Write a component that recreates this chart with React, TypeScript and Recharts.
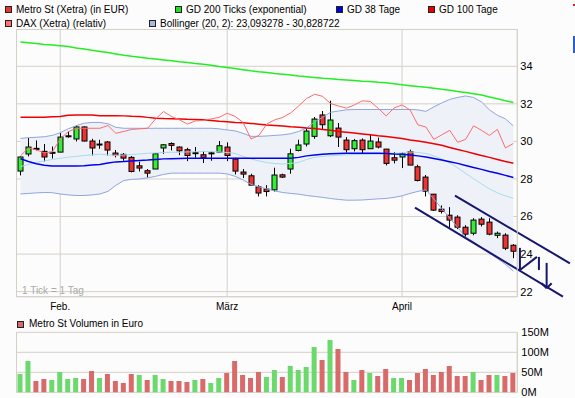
import React from "react";
import {
  ComposedChart,
  Area,
  Line,
  Bar,
  Cell,
  XAxis,
  YAxis,
  CartesianGrid,
  ReferenceLine,
} from "recharts";

// Tageskerzen Metro St (Xetra), in EUR
const OPEN = [
  28.42, 29.33, 29.63, 29.47, 29.41, 29.43, 30.25, 30.13, 30.77, 30.02,
  29.86, 29.97, 29.38, 29.31, 29.15, 28.7, 28.44, 28.53, 29.65, 29.89,
  29.7, 29.56, 29.4, 29.29, 29.38, 29.43, 29.7, 29.06, 28.37, 28.17,
  27.58, 27.46, 27.42, 28.22, 28.53, 29.52, 29.86, 30.27, 31.41, 30.3,
  30.71, 30.07, 29.61, 30.07, 29.61, 29.97, 29.59, 29.13, 29.17, 29.45,
  28.65, 28.1, 27.19, 26.39, 26.07, 25.97, 25.43, 25.11, 25.86, 25.7,
  25.0, 25.01, 24.47,
];
const HIGH = [
  29.2, 30.18, 30.05, 29.86, 29.73, 30.45, 30.52, 30.84, 30.8, 30.14,
  30.09, 30.02, 29.54, 29.38, 29.22, 28.92, 28.53, 29.36, 29.86, 29.95,
  29.73, 29.66, 29.7, 29.47, 29.47, 30.02, 29.95, 29.13, 28.53, 28.28,
  27.67, 27.67, 28.6, 28.28, 29.61, 30.09, 30.69, 31.3, 31.62, 32.17,
  30.98, 30.23, 30.13, 30.16, 30.34, 30.2, 29.6, 29.43, 29.41, 29.56,
  28.76, 28.21, 27.2, 26.59, 26.5, 26.07, 25.54, 25.91, 25.97, 25.91,
  25.2, 25.11, 24.53,
];
const LOW = [
  28.19, 29.2, 29.52, 28.93, 29.09, 29.43, 30.2, 30.0, 30.0, 29.25,
  29.61, 29.25, 29.15, 28.97, 28.35, 28.4, 28.08, 28.53, 29.34, 29.52,
  29.27, 28.95, 29.13, 28.85, 28.97, 29.43, 28.95, 28.24, 28.05, 27.67,
  27.07, 27.07, 27.33, 28.05, 28.28, 29.47, 29.73, 30.14, 30.62, 30.23,
  29.7, 29.41, 29.47, 29.34, 29.61, 29.63, 28.72, 28.83, 28.58, 28.74,
  27.87, 27.07, 26.3, 26.16, 25.41, 25.33, 24.9, 25.0, 25.47, 25.0,
  24.85, 24.21, 23.78,
];
const CLOSE = [
  29.17, 29.7, 29.6, 29.17, 29.42, 30.23, 30.3, 30.77, 30.02, 29.65,
  29.83, 29.54, 29.25, 29.11, 28.4, 28.58, 28.31, 29.34, 29.82, 29.79,
  29.5, 29.25, 29.38, 29.15, 29.39, 29.77, 29.25, 28.42, 28.26, 27.67,
  27.25, 27.33, 28.21, 28.1, 29.34, 29.81, 30.55, 31.19, 30.89, 31.14,
  30.23, 29.56, 30.04, 29.56, 30.02, 29.7, 28.83, 29.0, 29.33, 28.74,
  27.92, 27.35, 26.34, 26.27, 25.81, 25.43, 25.06, 25.81, 25.59, 25.06,
  25.11, 24.31, 24.15,
];

// Volumen in Mio. EUR
const VOLUME = [
  46, 78, 28, 33, 31, 51, 33, 36, 33, 53,
  36, 46, 28, 23, 46, 43, 31, 43, 33, 28,
  28, 26, 31, 33, 23, 36, 48, 78, 43, 36,
  51, 38, 56, 38, 66, 56, 63, 113, 81, 131,
  108, 51, 31, 56, 48, 41, 58, 36, 36, 31,
  48, 58, 43, 51, 66, 41, 41, 51, 31, 43,
  43, 41, 48,
];

// Bollinger (20, 2)
const BB_UPPER = [
  30.16, 30.2, 30.22, 30.25, 30.32, 30.46, 30.67, 30.83, 30.97, 31.01,
  31.01, 30.94, 30.75, 30.7, 30.7, 30.7, 30.7, 30.7, 30.7, 30.7,
  30.7, 30.7, 30.7, 30.7, 30.7, 30.67, 30.61, 30.56, 30.43, 30.27,
  30.27, 30.29, 30.32, 30.35, 30.41, 30.53, 30.72, 31.04, 31.28, 31.55,
  31.62, 31.68, 31.7, 31.7, 31.7, 31.7, 31.7, 31.7, 31.7, 31.7,
  31.68, 31.6, 31.84, 32.05, 32.24, 32.34, 32.42, 32.34, 32.1, 31.68,
  31.39, 31.2, 30.83,
];
const BB_LOWER = [
  27.2, 27.23, 27.26, 27.28, 27.27, 27.2, 27.15, 27.12, 27.12, 27.15,
  27.2, 27.34, 27.66, 27.92, 27.98, 28.0, 28.06, 28.14, 28.24, 28.31,
  28.31, 28.31, 28.31, 28.31, 28.31, 28.31, 28.27, 28.14, 27.95, 27.71,
  27.58, 27.47, 27.36, 27.28, 27.23, 27.19, 27.12, 27.07, 27.02, 26.96,
  26.91, 26.87, 26.87, 26.88, 26.91, 26.94, 26.96, 27.02, 27.1, 27.23,
  27.34, 27.42, 26.94, 26.42, 25.91, 25.42, 24.9, 24.65, 24.35, 24.05,
  23.76, 23.45, 23.09,
];
const BB_MID = [
  28.66, 28.77, 28.88, 28.96, 29.04, 29.1, 29.16, 29.2, 29.25, 29.28,
  29.32, 29.28, 29.25, 29.28, 29.31, 29.33, 29.37, 29.39, 29.41, 29.42,
  29.42, 29.44, 29.45, 29.46, 29.46, 29.44, 29.41, 29.36, 29.2, 29.07,
  28.96, 28.87, 28.82, 28.8, 28.83, 28.88, 29.04, 29.15, 29.2, 29.24,
  29.26, 29.28, 29.3, 29.31, 29.32, 29.33, 29.35, 29.37, 29.39, 29.44,
  29.41, 29.36, 29.23, 29.07, 28.85, 28.59, 28.3, 28.01, 27.74, 27.47,
  27.26, 27.1, 26.97,
];

// gleitende Durchschnitte
const GD38 = [
  29.08, 28.93, 28.81, 28.73, 28.69, 28.69, 28.69, 28.69, 28.71, 28.75,
  28.77, 28.85, 28.91, 28.93, 28.96, 28.99, 29.01, 29.04, 29.07, 29.08,
  29.09, 29.1, 29.1, 29.1, 29.1, 29.1, 29.1, 29.1, 29.1, 29.1,
  29.1, 29.1, 29.1, 29.1, 29.1, 29.15, 29.23, 29.28, 29.32, 29.34,
  29.36, 29.37, 29.37, 29.37, 29.37, 29.37, 29.36, 29.33, 29.31, 29.28,
  29.23, 29.17, 29.09, 29.01, 28.92, 28.83, 28.72, 28.61, 28.51, 28.4,
  28.3, 28.19, 28.08,
];
const GD100 = [
  31.29, 31.29, 31.29, 31.29, 31.31, 31.33, 31.39, 31.41, 31.41, 31.4,
  31.37, 31.37, 31.37, 31.36, 31.34, 31.33, 31.28, 31.24, 31.22, 31.21,
  31.2, 31.18, 31.17, 31.15, 31.12, 31.08, 31.05, 31.01, 30.99, 30.96,
  30.92, 30.88, 30.85, 30.82, 30.78, 30.75, 30.71, 30.69, 30.64, 30.59,
  30.53, 30.49, 30.45, 30.4, 30.35, 30.3, 30.26, 30.21, 30.16, 30.08,
  30.02, 29.95, 29.87, 29.79, 29.68, 29.57, 29.47, 29.36, 29.25, 29.15,
  29.04, 28.93, 28.84,
];
const GD200 = [
  35.29, 35.25, 35.21, 35.16, 35.13, 35.09, 35.05, 34.98, 34.92, 34.85,
  34.79, 34.73, 34.66, 34.59, 34.53, 34.48, 34.43, 34.39, 34.34, 34.29,
  34.24, 34.2, 34.15, 34.11, 34.05, 33.99, 33.94, 33.88, 33.82, 33.76,
  33.71, 33.67, 33.62, 33.58, 33.54, 33.49, 33.45, 33.41, 33.37, 33.34,
  33.3, 33.27, 33.24, 33.21, 33.19, 33.15, 33.12, 33.07, 33.02, 32.97,
  32.92, 32.88, 32.83, 32.78, 32.73, 32.66, 32.6, 32.54, 32.47, 32.37,
  32.27, 32.17, 32.07,
];
// DAX (Xetra), relativ skaliert
const DAX_REL = [
  29.23, 29.65, 29.55, 29.39, 29.44, 30.13, 30.51, 30.7, 30.7, 30.7,
  30.7, 30.85, 30.43, 30.53, 30.64, 30.67, 30.7, 31.2, 31.59, 31.33,
  31.15, 30.92, 31.09, 31.12, 31.2, 31.28, 31.5, 31.33, 31.01, 30.13,
  30.32, 30.93, 31.15, 31.28, 31.52, 31.89, 32.29, 32.51, 32.4, 32.02,
  31.89, 31.77, 31.94, 32.16, 32.13, 31.76, 31.36, 31.78, 31.94, 31.68,
  30.88, 30.77, 30.11, 30.35, 30.59, 29.95, 30.11, 30.83, 30.59, 30.32,
  30.64, 29.65, 29.89,
];

const MONTH_TICKS = [5, 26, 48];
const MONTH_LABELS = ["Feb.", "März", "April"];
const PRICE_TICKS = [22, 24, 26, 28, 30, 32, 34];
const VOLUME_TICKS = [0, 50, 100, 150];
const PRICE_DOMAIN = [21.73, 35.96];
const X_DOMAIN = [-0.5, 62.5];

// Trendkanal + Pfeile, als [index, kurs]-Paare
const CHANNEL = [
  [[49.63, 26.47], [68.24, 21.73]],
  [[54.66, 27.11], [69.12, 23.51]],
];
const MARKS = [
  [[62.83, 24.33], [62.83, 23.15]],
  [[62.83, 23.15], [64.97, 23.85]],
  [[65.22, 23.85], [65.22, 23.15]],
  [[66.19, 23.53], [66.19, 22.18]],
  [[65.56, 22.45], [66.19, 22.18]],
  [[66.82, 22.45], [66.19, 22.18]],
];

const FONT = "'Liberation Sans', Arial, sans-serif";
const GRID = "#d4d0c8";
const UP = "#33ee33";
const DOWN = "#ee3333";
const NAVY = "#16166e";

const data = CLOSE.map((c, i) => ({
  i,
  open: OPEN[i],
  high: HIGH[i],
  low: LOW[i],
  close: c,
  vol: VOLUME[i],
  volUp: i === 0 || c >= CLOSE[i - 1],
  bbUpper: BB_UPPER[i],
  bbLower: BB_LOWER[i],
  bbMid: BB_MID[i],
  gd38: GD38[i],
  gd100: GD100[i],
  gd200: GD200[i],
  dax: DAX_REL[i],
}));

const Candle = (props: any) => {
  const { x, y, width, height, payload } = props;
  if (x == null || !payload) return null;
  const top = Math.min(y, y + height);
  const h = Math.abs(height);
  const range = payload.high - payload.low || 1;
  const py = (v: number) => top + ((payload.high - v) / range) * h;
  const cx = Math.floor(x + width / 2) + 0.5;
  const up = payload.close >= payload.open;
  const bTop = py(Math.max(payload.open, payload.close));
  const bBot = py(Math.min(payload.open, payload.close));
  return (
    <g>
      <line x1={cx} x2={cx} y1={top} y2={top + h} stroke="#000" strokeWidth={1} />
      <rect
        x={cx - 2.5}
        y={bTop}
        width={5}
        height={Math.max(bBot - bTop, 1)}
        fill={up ? UP : DOWN}
        stroke="#000"
        strokeWidth={1}
      />
    </g>
  );
};

const LegendItem = ({ color, label, left, top }: { color: string; label: string; left: number; top: number }) => (
  <div style={{ position: "absolute", left, top, display: "flex", alignItems: "center", whiteSpace: "nowrap" }}>
    <span style={{ width: 5, height: 5, background: color, border: "1px solid #222", marginRight: 4 }} />
    <span>{label}</span>
  </div>
);

const tickStyle = { fontSize: 11, fill: "#000", fontFamily: FONT };

export default function App() {
  return (
    <div
      style={{
        position: "absolute",
        left: 0,
        top: 0,
        width: 575,
        height: 398,
        background: "#fcfcfc",
        fontFamily: FONT,
        fontSize: 10,
        color: "#000",
        overflow: "hidden",
      }}
    >
      <LegendItem color="#ee3333" label="Metro St (Xetra) (in EUR)" left={5} top={4} />
      <LegendItem color="#22dd22" label="GD 200 Ticks (exponential)" left={175} top={4} />
      <LegendItem color="#0000dd" label="GD 38 Tage" left={336} top={4} />
      <LegendItem color="#ee0000" label="GD 100 Tage" left={428} top={4} />
      <LegendItem color="#ff7070" label="DAX (Xetra) (relativ)" left={5} top={18} />
      <LegendItem color="#a8b8e0" label="Bollinger (20, 2): 23,093278 - 30,828722" left={149} top={18} />
      <div style={{ position: "absolute", left: 573, top: 4, width: 2, height: 2, background: "#cc2222" }} />
      <div style={{ position: "absolute", left: 573, top: 36, width: 2, height: 17, background: "#2d5cd0" }} />

      <div style={{ position: "absolute", left: 0, top: 0 }}>
        <ComposedChart width={575} height={318} data={data} margin={{ top: 29.5, right: 0, bottom: 0.3, left: 16.5 }}>
          <CartesianGrid stroke={GRID} fill="#fcfcfc" />
          <XAxis
            dataKey="i"
            type="number"
            domain={X_DOMAIN}
            allowDataOverflow
            ticks={MONTH_TICKS}
            interval={0}
            tickFormatter={(v) => MONTH_LABELS[MONTH_TICKS.indexOf(v)] ?? ""}
            tick={{ ...tickStyle, fontSize: 10 }}
            tickLine={false}
            tickSize={0}
            tickMargin={6}
            height={21}
            axisLine={{ stroke: GRID }}
          />
          <YAxis
            orientation="right"
            type="number"
            domain={PRICE_DOMAIN}
            allowDataOverflow
            ticks={PRICE_TICKS}
            interval={0}
            tick={tickStyle}
            tickLine={false}
            tickSize={0}
            tickMargin={3}
            width={57.7}
            axisLine={{ stroke: GRID }}
          />
          <ReferenceLine x={-0.5} stroke={GRID} />
          <ReferenceLine y={PRICE_DOMAIN[1]} stroke={GRID} />
          <Area
            dataKey={(d: any) => [d.bbLower, d.bbUpper]}
            type="linear"
            fill="#eef1f7"
            fillOpacity={1}
            stroke="none"
            isAnimationActive={false}
          />
          <Line dataKey="bbUpper" type="linear" stroke="#8ea6dc" strokeWidth={1} dot={false} isAnimationActive={false} />
          <Line dataKey="bbLower" type="linear" stroke="#8ea6dc" strokeWidth={1} dot={false} isAnimationActive={false} />
          <Line dataKey="bbMid" type="linear" stroke="#a6dcec" strokeWidth={1} dot={false} isAnimationActive={false} />
          <Line dataKey="gd200" type="linear" stroke="#22ee22" strokeWidth={1.5} dot={false} isAnimationActive={false} />
          <Line dataKey="gd100" type="linear" stroke="#ee0000" strokeWidth={1.5} dot={false} isAnimationActive={false} />
          <Line dataKey="gd38" type="linear" stroke="#0000ee" strokeWidth={1.5} dot={false} isAnimationActive={false} />
          <Line dataKey="dax" type="linear" stroke="#ff6b6b" strokeWidth={1} dot={false} isAnimationActive={false} />
          <Bar
            dataKey={(d: any) => [d.low, d.high]}
            barSize={6}
            shape={Candle}
            isAnimationActive={false}
          />
          {[...CHANNEL, ...MARKS].map((s, k) => (
            <ReferenceLine
              key={k}
              segment={s.map(([x, y]) => ({ x, y }))}
              stroke={NAVY}
              strokeWidth={2}
              ifOverflow="visible"
            />
          ))}
        </ComposedChart>
      </div>

      <div style={{ position: "absolute", left: 29, top: 318, whiteSpace: "nowrap" }}>Metro St Volumen in Euro</div>
      <span
        style={{
          position: "absolute",
          left: 17,
          top: 321,
          width: 5,
          height: 5,
          background: "#d96a6a",
          border: "1px solid #222",
        }}
      />
      <div style={{ position: "absolute", left: 22, top: 285, color: "#aaaaaa", whiteSpace: "nowrap" }}>1 Tick = 1 Tag</div>

      <div style={{ position: "absolute", left: 0, top: 318 }}>
        <ComposedChart width={575} height={80} data={data} margin={{ top: 14.3, right: 0, bottom: 5.7, left: 16.5 }}>
          <CartesianGrid stroke={GRID} fill="#fcfcfc" />
          <XAxis
            dataKey="i"
            type="number"
            domain={X_DOMAIN}
            allowDataOverflow
            ticks={MONTH_TICKS}
            interval={0}
            tick={false}
            tickLine={false}
            height={0}
            axisLine={{ stroke: GRID }}
          />
          <YAxis
            orientation="right"
            type="number"
            domain={[0, 150]}
            ticks={VOLUME_TICKS}
            interval={0}
            tickFormatter={(v) => `${v}M`}
            tick={tickStyle}
            tickLine={false}
            tickSize={0}
            tickMargin={4}
            width={57.7}
            axisLine={{ stroke: GRID }}
          />
          <ReferenceLine x={-0.5} stroke={GRID} />
          <Bar dataKey="vol" barSize={5} isAnimationActive={false}>
            {data.map((d) => (
              <Cell key={d.i} fill={d.volUp ? "#6cd96c" : "#d96a6a"} />
            ))}
          </Bar>
        </ComposedChart>
      </div>
    </div>
  );
}
